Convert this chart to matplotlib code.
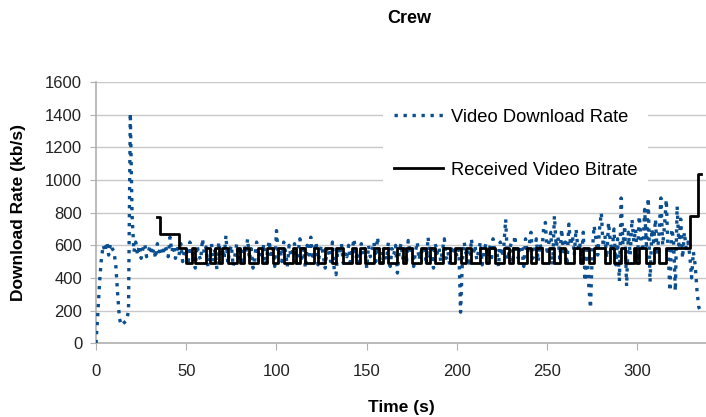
import matplotlib
matplotlib.use("Agg")
import matplotlib.pyplot as plt

plt.rcParams['font.family'] = ['Liberation Sans', 'DejaVu Sans']

# video download rate (kb/s), one value per second from t = 0
rate = [
    0, 180, 380, 520, 600, 560, 620, 540, 610, 580,
    560, 470, 300, 150, 110, 120, 130, 140, 200, 1410,
    780, 560, 620, 540, 600, 520, 580, 610, 530, 560,
    600, 540, 580, 520, 610, 560, 590, 540, 600, 570,
    530, 650, 560, 600, 520, 580, 540, 610, 500, 560,
    580, 480, 620, 530, 560, 460, 600, 540, 510, 640,
    550, 590, 470, 530, 610, 500, 570, 450, 620, 540,
    580, 520, 660, 490, 560, 600, 470, 540, 610, 520,
    570, 480, 600, 550, 640, 510, 580, 460, 530, 620,
    500, 570, 540, 610, 480, 560, 630, 520, 590, 470,
    690, 540, 580, 500, 620, 560, 470, 600, 530, 570,
    610, 490, 560, 640, 520, 580, 460, 600, 540, 650,
    510, 570, 620, 480, 560, 600, 530, 460, 590, 550,
    500, 620, 450, 420, 580, 540, 610, 490, 560, 530,
    600, 470, 580, 640, 520, 560, 490, 610, 540, 580,
    460, 600, 530, 570, 620, 500, 650, 540, 480, 590,
    560, 510, 620, 470, 580, 540, 600, 430, 560, 610,
    520, 580, 490, 630, 550, 600, 470, 560, 620, 510,
    570, 540, 600, 480, 650, 530, 580, 460, 610, 550,
    590, 500, 570, 640, 520, 560, 480, 600, 540, 580,
    530, 600, 190, 500, 620, 550, 580, 470, 640, 540,
    600, 510, 570, 620, 480, 560, 610, 530, 590, 500,
    640, 550, 580, 470, 620, 530, 600, 760, 510, 570,
    610, 490, 660, 560, 520, 600, 580, 470, 640, 550,
    600, 680, 520, 570, 640, 500, 610, 560, 700, 740,
    540, 620, 680, 480, 780, 590, 650, 520, 700, 560,
    620, 480, 730, 600, 660, 540, 700, 580, 620, 500,
    680, 380, 600, 360, 215, 560, 720, 640, 540, 700,
    800, 590, 660, 520, 740, 620, 560, 700, 480, 640,
    380, 890, 600, 720, 350, 680, 540, 760, 620, 700,
    500, 780, 640, 560, 820, 600, 890, 375, 700, 620,
    760, 540, 680, 890, 600, 720, 880, 560, 320, 700,
    640, 320, 840, 600, 760, 520, 680, 580, 620, 540,
    400, 560, 480, 325, 220, 200,
]
rate_t = list(range(len(rate)))

# received video bitrate: change times (s) and level from that time on (kb/s)
bitrate_t = [34, 35.5, 46, 50, 53, 55, 61, 63, 66, 68, 70, 73, 78, 80, 82, 85,
             90, 92, 95, 98, 101, 104, 109, 111, 113, 116, 121, 123, 127, 131,
             133, 137, 142, 144, 146, 149, 154, 157, 159, 162, 167, 170, 172,
             175, 180, 183, 185, 188, 192, 196, 199, 202, 205, 208, 213, 216,
             218, 221, 226, 229, 231, 234, 239, 241, 244, 247, 251, 254, 257,
             260, 265, 268, 270, 273, 276, 282, 285, 287, 291, 293, 298, 299,
             301, 305, 309, 312, 316, 329, 333.5, 335.5]
hi, lo = 585, 490
bitrate_kbps = [775, 672, hi] + [lo, hi] * 42 + [778, 1036, 1036]

fig = plt.figure(figsize=(7.06, 4.17), dpi=100)
ax = fig.add_axes([0.136, 0.177, 0.864, 0.626])

ax.plot(rate_t, rate, color='#0b4f91', lw=2.4, linestyle=(0, (1.0, 1.7)),
        dash_capstyle='butt', label='Video Download Rate', zorder=3)
ax.step(bitrate_t, bitrate_kbps, where='post', color='black', lw=2,
        label='Received Video Bitrate', zorder=4)

ax.set_xlim(0, 338)
ax.set_ylim(0, 1600)
ax.set_xticks(range(0, 301, 50))
ax.set_yticks(range(0, 1601, 200))
ax.grid(axis='y', color='#c8c8c8', lw=1)
ax.set_axisbelow(True)
for s in ['top', 'right']:
    ax.spines[s].set_visible(False)
for s in ['left', 'bottom']:
    ax.spines[s].set_color('#b0b0b0')
    ax.spines[s].set_linewidth(1.2)
ax.tick_params(axis='both', colors='#b0b0b0', labelcolor='#222222',
               labelsize=12, length=5)
ax.tick_params(axis='x', pad=10)
ax.tick_params(axis='y', length=4, pad=6)

ax.set_xlabel('Time (s)', fontsize=12.5, fontweight='bold', labelpad=15)
ax.set_ylabel('Download Rate (kb/s)', fontsize=12.5, fontweight='bold', labelpad=14)
fig.text(0.58, 0.955, 'Crew', fontsize=13, fontweight='bold', ha='center', va='center')

leg = ax.legend(loc='upper left', bbox_to_anchor=(0.455, 0.975), frameon=True,
                fontsize=13.2, handlelength=2.7, labelspacing=1.95,
                borderpad=0.6, handletextpad=0.4)
leg.get_frame().set_facecolor('white')
leg.get_frame().set_edgecolor('none')
leg.get_frame().set_alpha(1)
leg.get_frame().set_boxstyle('square', pad=0)

fig.savefig('out.png', dpi=100)
